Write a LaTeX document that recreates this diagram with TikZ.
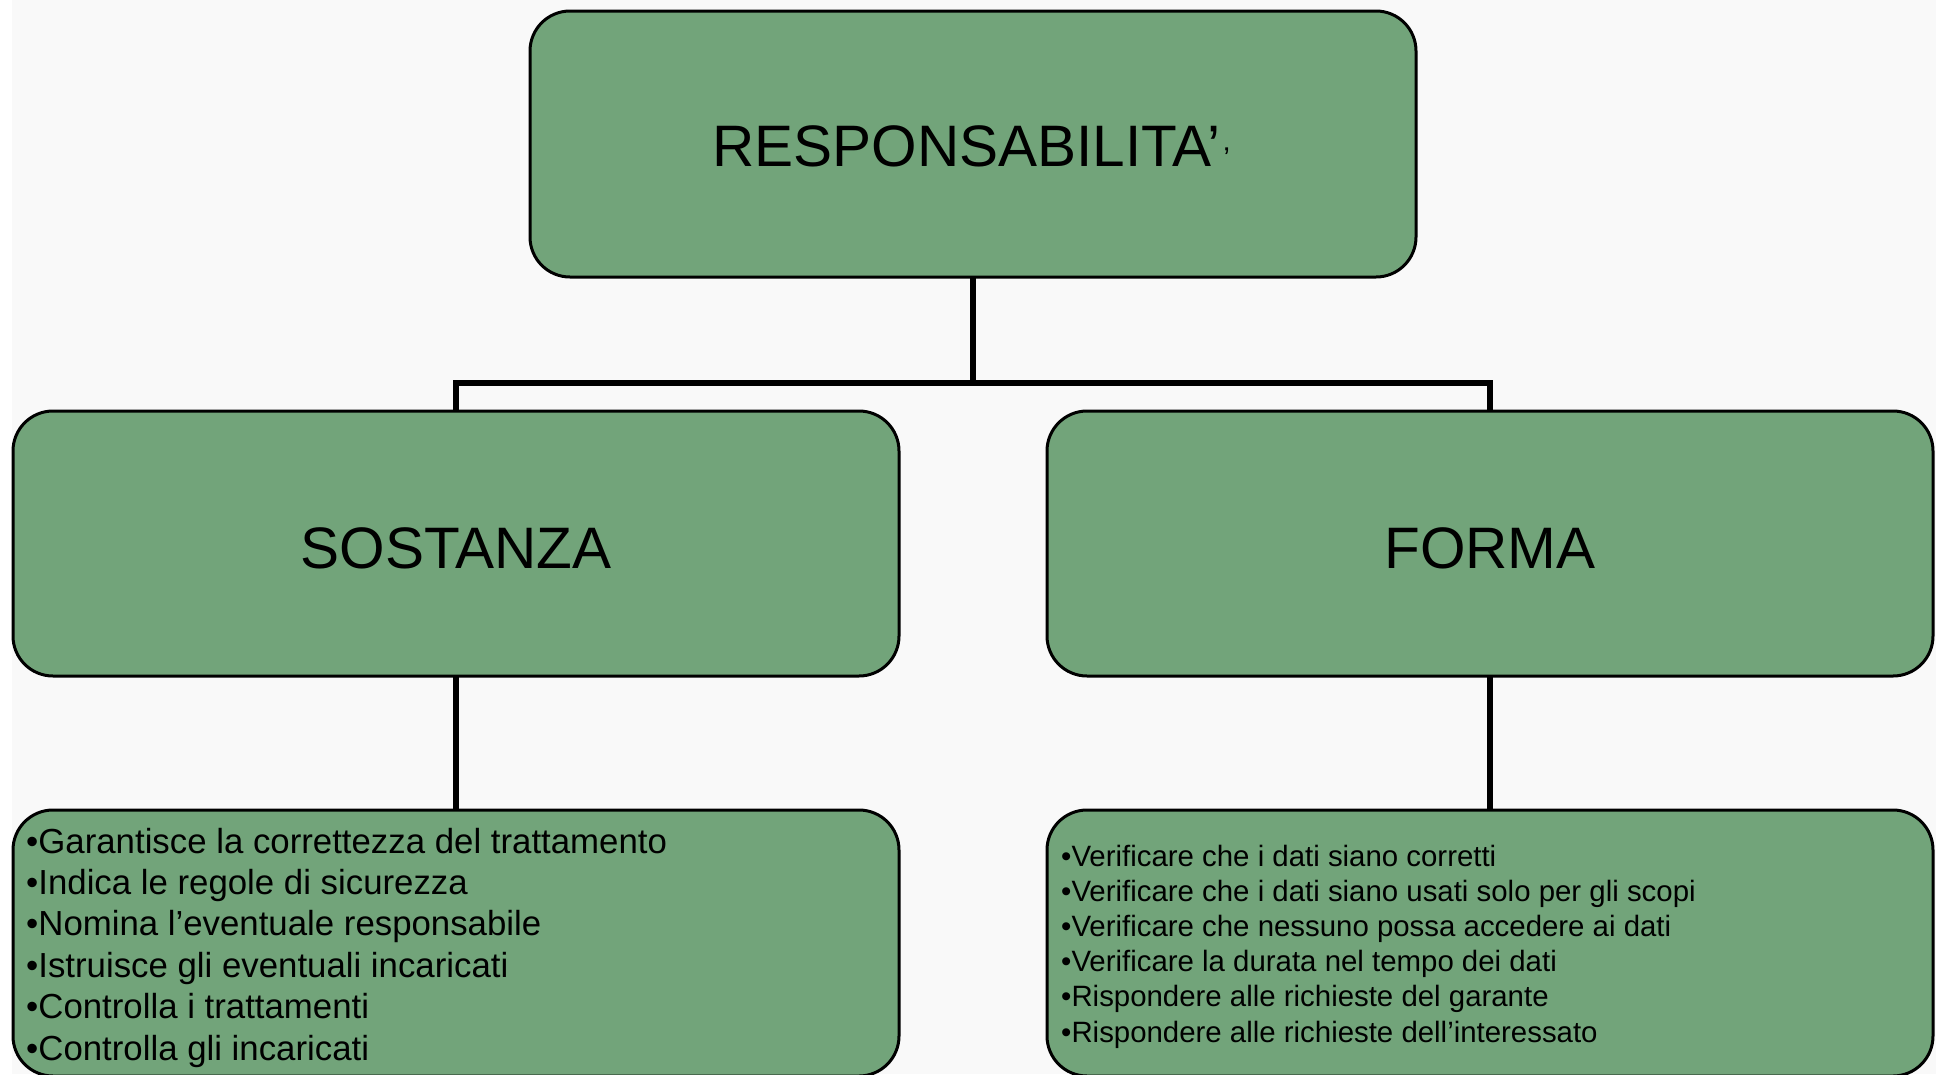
\documentclass[tikz,border=0pt]{standalone}
\usepackage{fontspec}
\setmainfont{Liberation Sans}
\definecolor{boxgreen}{HTML}{72A47A}
\definecolor{bgpat}{HTML}{F9F9F9}
\tikzset{
  box/.style={draw=black, fill=boxgreen, line width=3pt, rounded corners=40pt,
              inner sep=0pt, outer sep=0pt},
  conn/.style={draw=black, line width=6pt, line join=miter},
  titletext/.style={font=\fontsize{58.5}{70}\selectfont, inner sep=0pt, text=black},
  lefttext/.style={font=\fontsize{34.8}{41}\selectfont, inner sep=0pt, anchor=base west, text=black},
  righttext/.style={font=\fontsize{29.4}{35}\selectfont, inner sep=0pt, anchor=base west, text=black},
}
\begin{document}
\begin{tikzpicture}[x=1pt,y=-1pt]
\useasboundingbox (0,0) rectangle (1936,1074);
\fill[white] (0,0) rectangle (1936,1074);
\fill[bgpat] (12,0) rectangle (1936,1074);
% boxes
\node[box, minimum width=886pt, minimum height=266pt] (top) at (973,144) {};
\node[box, minimum width=886pt, minimum height=265pt] (sost) at (456,543.5) {};
\node[box, minimum width=886pt, minimum height=265pt] (forma) at (1490,543.5) {};
\node[box, minimum width=886pt, minimum height=266pt] (sostlist) at (456,943) {};
\node[box, minimum width=886pt, minimum height=266pt] (formalist) at (1490,943) {};
% connectors
\coordinate (bus) at (973,383);
\draw[conn] (top.south) -- (bus);
\draw[conn] (sost.north) |- (bus) -| (forma.north);
\draw[conn] (sost.south) -- (sostlist.north);
\draw[conn] (forma.south) -- (formalist.north);
% labels
\node[titletext, anchor=base west] (toplabel) at (712,166) {RESPONSABILITA’{\fontsize{30}{30}\selectfont\kern3pt\raisebox{-2pt}{’}}};
\node[titletext, anchor=base] (sostlabel) at (456,568) {SOSTANZA};
\node[titletext, anchor=base] (formalabel) at (1490,568) {FORMA};
% left list
\foreach \t [count=\i] in {
  •Garantisce la correttezza del trattamento,
  •Indica le regole di sicurezza,
  •Nomina l’eventuale responsabile,
  •Istruisce gli eventuali incaricati,
  •Controlla i trattamenti,
  •Controlla gli incaricati}
  \node[lefttext] (l\i) at (26,{853+41.4*(\i-1)}) {\t};
% right list
\foreach \t [count=\i] in {
  •Verificare che i dati siano corretti,
  •Verificare che i dati siano usati solo per gli scopi,
  •Verificare che nessuno possa accedere ai dati,
  •Verificare la durata nel tempo dei dati,
  •Rispondere alle richieste del garante,
  •Rispondere alle richieste dell’interessato}
  \node[righttext] (r\i) at (1061,{866+35.2*(\i-1)}) {\t};
\end{tikzpicture}
\end{document}
